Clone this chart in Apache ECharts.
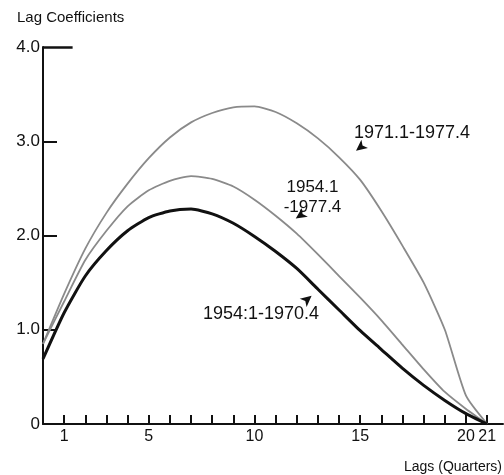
<!DOCTYPE html>
<html>
<head>
<meta charset="utf-8">
<script src="https://cdn.jsdelivr.net/npm/echarts@6/dist/echarts.min.js"></script>
<style>
  html, body { margin: 0; padding: 0; background: #fff; }
  #chart { width: 504px; height: 475px; }
</style>
</head>
<body>
<div id="chart"></div>
<script>
// ---- Data ----
const lags = [0,1,2,3,4,5,6,7,8,9,10,11,12,13,14,15,16,17,18,19,20,21];
const s1954_1970 = [0.69,1.18,1.57,1.84,2.05,2.19,2.26,2.28,2.23,2.13,1.99,1.83,1.65,1.43,1.21,0.99,0.79,0.59,0.41,0.25,0.11,0];
const s1954_1977 = [0.85,1.30,1.74,2.05,2.31,2.48,2.58,2.63,2.60,2.52,2.38,2.21,2.02,1.80,1.57,1.34,1.10,0.84,0.58,0.34,0.16,0];
const s1971_1977 = [0.85,1.38,1.86,2.24,2.55,2.82,3.04,3.20,3.30,3.36,3.37,3.31,3.19,3.03,2.83,2.59,2.26,1.89,1.50,1.00,0.30,0];
const xTickValues = [1,2,3,4,5,6,7,8,9,10,11,12,13,14,15,16,17,18,19,20,21];
const xLabelValues = [1,5,10,15,20,21];
const yTickValues = [1,2,3];
const yLabelValues = [0,1,2,3,4];
const yLabelText = ['0','1.0','2.0','3.0','4.0'];
const labelA = '1971.1-1977.4';
const labelB1 = '1954.1';
const labelB2 = '-1977.4';
const labelC = '1954:1-1970.4';
const yTitle = 'Lag Coefficients';
const xTitle = 'Lags (Quarters)';

const FONT = '"Liberation Sans", Arial, Helvetica, sans-serif';

function pairs(vals) { return lags.map((l, i) => [l, vals[i]]); }

const chart = echarts.init(document.getElementById('chart'), null, { renderer: 'canvas' });

const option = {
  animation: false,
  backgroundColor: '#ffffff',
  grid: { left: 43, right: 1, top: 47, bottom: 51, containLabel: false },
  xAxis: {
    type: 'value',
    min: 0, max: 21.75,
    interval: 1,
    splitLine: { show: false },
    axisLine: { show: true, lineStyle: { color: '#111', width: 2 } },
    axisTick: { show: true, inside: true, length: 9, lineStyle: { color: '#111', width: 2 }, customValues: xTickValues },
    axisLabel: {
      show: true, margin: 5, color: '#111', fontSize: 16, fontFamily: FONT,
      customValues: xLabelValues,
      formatter: v => String(v)
    }
  },
  yAxis: {
    type: 'value',
    min: 0, max: 4, interval: 1,
    splitLine: { show: false },
    axisLine: { show: true, lineStyle: { color: '#111', width: 2 } },
    axisTick: { show: true, inside: true, length: 14, lineStyle: { color: '#111', width: 2 }, customValues: yTickValues },
    axisLabel: {
      show: true, margin: 3, color: '#111', fontSize: 17, fontFamily: FONT,
      customValues: yLabelValues,
      formatter: v => yLabelText[yLabelValues.indexOf(Math.round(v))]
    }
  },
  series: [
    {
      name: labelA, type: 'line', data: pairs(s1971_1977), smooth: 0.2,
      showSymbol: false, symbol: 'none',
      lineStyle: { color: '#8a8a8a', width: 1.8 },
      z: 2,
      markPoint: {
        silent: true,
        label: { show: false },
        itemStyle: { color: '#111' },
        data: [
          { coord: [14.8, 2.90], symbol: 'arrow', symbolSize: [8, 11], symbolRotate: 128 },
          { coord: [11.95, 2.18], symbol: 'arrow', symbolSize: [8, 11], symbolRotate: 124 },
          { coord: [12.7, 1.36], symbol: 'arrow', symbolSize: [8, 11], symbolRotate: -50 }
        ]
      }
    },
    {
      name: labelB1 + labelB2, type: 'line', data: pairs(s1954_1977), smooth: 0.2,
      showSymbol: false, symbol: 'none',
      lineStyle: { color: '#8a8a8a', width: 1.8 },
      z: 2
    },
    {
      name: labelC, type: 'line', data: pairs(s1954_1970), smooth: 0.2,
      showSymbol: false, symbol: 'none',
      lineStyle: { color: '#111', width: 3 },
      z: 3,
      markLine: {
        silent: true, symbol: ['none', 'none'], label: { show: false },
        lineStyle: { color: '#111', width: 2.5, type: 'solid' },
        data: [[{ coord: [0, 4] }, { coord: [1.4, 4] }]]
      }
    }
  ],
  graphic: [
    { type: 'text', style: { text: yTitle, x: 17, y: 18, font: '15px ' + FONT, fill: '#111', align: 'left', verticalAlign: 'middle' } },
    { type: 'text', style: { text: xTitle, x: 502, y: 467, font: '14px ' + FONT, fill: '#111', align: 'right', verticalAlign: 'middle' } },
    { type: 'text', style: { text: labelA, x: 412, y: 133, font: '18px ' + FONT, fill: '#111', align: 'center', verticalAlign: 'middle' } },
    { type: 'text', style: { text: labelB1, x: 312.5, y: 187.5, font: '17px ' + FONT, fill: '#111', align: 'center', verticalAlign: 'middle' } },
    { type: 'text', style: { text: labelB2, x: 312.5, y: 207, font: '17px ' + FONT, fill: '#111', align: 'center', verticalAlign: 'middle' } },
    { type: 'text', style: { text: labelC, x: 261, y: 314, font: '18px ' + FONT, fill: '#111', align: 'center', verticalAlign: 'middle' } }
  ]
};

chart.setOption(option);
</script>
</body>
</html>
